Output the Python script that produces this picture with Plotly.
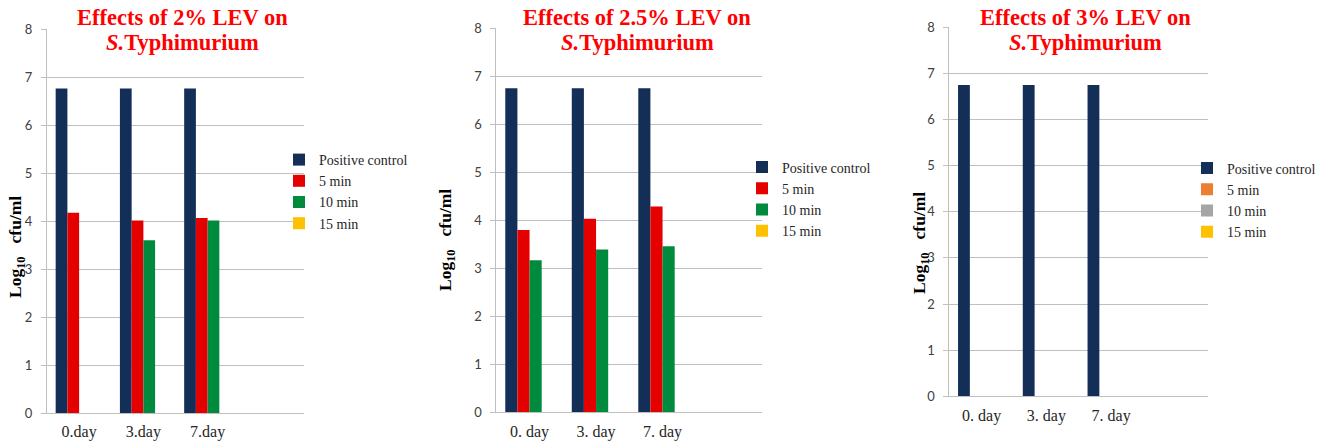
import plotly.graph_objects as go

days_p1 = ["0.day", "3.day", "7.day"]
days_p2 = ["0. day", "3. day", "7. day"]
days_p3 = ["0. day", "3. day", "7. day"]
series_names = ["Positive control", "5 min", "10 min", "15 min"]

# panel 1: 2% LEV
p1_control = [6.76, 6.76, 6.76]
p1_5min = [4.17, 4.01, 4.06]
p1_10min = [0, 3.60, 4.01]
p1_15min = [0, 0, 0]
# panel 2: 2.5% LEV
p2_control = [6.75, 6.75, 6.75]
p2_5min = [3.80, 4.03, 4.29]
p2_10min = [3.17, 3.39, 3.46]
p2_15min = [0, 0, 0]
# panel 3: 3% LEV
p3_control = [6.75, 6.75, 6.75]
p3_5min = [0, 0, 0]
p3_10min = [0, 0, 0]
p3_15min = [0, 0, 0]

title_line1 = ["Effects of 2% LEV on", "Effects of 2.5% LEV on", "Effects of 3% LEV on"]
title_line2 = "<i>S.</i>Typhimurium"
ytitle_text = "Log<sub>10</sub>&nbsp;&nbsp; cfu/ml"

colors_a = ["#132F57", "#E50000", "#008A3E", "#FFC000"]
colors_b = ["#132F57", "#ED7D31", "#A5A5A5", "#FFC000"]

# the page body adds an 8 px offset; the figure fills the rest of the window
OFF = 8
W, H = 1323 - OFF, 441 - OFF
def px(x): return (x - OFF) / W
def py(y): return 1 - (y - OFF) / H

panels = [
    dict(cats=days_p1, vals=[p1_control, p1_5min, p1_10min, p1_15min], colors=colors_a,
         xd=[px(47), px(304)], yd=[py(413), py(29)],
         leg=(px(279), py(191.5)), ytitle=(px(16), py(247)), ttl=182),
    dict(cats=days_p2, vals=[p2_control, p2_5min, p2_10min, p2_15min], colors=colors_a,
         xd=[px(496.3), px(762.3)], yd=[py(412.3), py(28.3)],
         leg=(px(742), py(199)), ytitle=(px(446), py(240)), ttl=637),
    dict(cats=days_p3, vals=[p3_control, p3_5min, p3_10min, p3_15min], colors=colors_b,
         xd=[px(949.3), px(1208.3)], yd=[py(396.3), py(27.3)],
         leg=(px(1187), py(200)), ytitle=(px(920), py(243)), ttl=1085),
]

fig = go.Figure()
layout = dict(
    width=W, height=H, margin=dict(l=0, r=0, t=0, b=0, pad=0, autoexpand=False),
    paper_bgcolor="white", plot_bgcolor="white",
    barmode="group", bargap=0.27, bargroupgap=0,
    annotations=[],
)

for i, p in enumerate(panels):
    n = "" if i == 0 else str(i + 1)
    xa, ya = "x" + n, "y" + n
    leg = "legend" + n
    for s, name in enumerate(series_names):
        fig.add_trace(go.Bar(
            x=p["cats"], y=p["vals"][s], name=name,
            marker=dict(color=p["colors"][s], line=dict(width=0)),
            xaxis=xa, yaxis=ya, legend=leg,
        ))
    layout["xaxis" + n] = dict(
        domain=p["xd"], anchor=ya, type="category", automargin=False,
        range=[-0.5, 3.5], showgrid=False, showline=True,
        linecolor="#BFBFBF", linewidth=1, ticks="",
        tickfont=dict(family="Liberation Serif", size=16, color="#262626"),
        ticklabelstandoff=4, fixedrange=True,
    )
    layout["yaxis" + n] = dict(
        domain=p["yd"], anchor=xa, range=[0, 8], dtick=1, automargin=False,
        showgrid=True, gridcolor="#BFBFBF", gridwidth=1,
        showline=True, linecolor="#BFBFBF", linewidth=1,
        ticks="outside", ticklen=5, tickcolor="#BFBFBF", tickwidth=1,
        zeroline=False,
        tickfont=dict(family="Lato", size=13, color="#404040"),
        ticklabelstandoff=6,
    )
    layout[leg] = dict(
        x=p["leg"][0], y=p["leg"][1], xanchor="left", yanchor="middle",
        font=dict(family="Liberation Serif", size=14, color="#262626"),
        bgcolor="rgba(0,0,0,0)", tracegroupgap=0, itemwidth=30,
    )
    layout["annotations"].append(dict(
        text=title_line1[i], x=px(p["ttl"]), y=py(17), xref="paper", yref="paper",
        xanchor="center", yanchor="middle", showarrow=False,
        font=dict(family="Liberation Serif", size=22.5, color="#FF0000", weight="bold"),
    ))
    layout["annotations"].append(dict(
        text=title_line2, x=px(p["ttl"]), y=py(43), xref="paper", yref="paper",
        xanchor="center", yanchor="middle", showarrow=False,
        font=dict(family="Liberation Serif", size=22.5, color="#FF0000", weight="bold"),
    ))
    layout["annotations"].append(dict(
        text=ytitle_text, x=p["ytitle"][0], y=p["ytitle"][1],
        xref="paper", yref="paper", xanchor="center", yanchor="middle",
        textangle=-90, showarrow=False,
        font=dict(family="Liberation Serif", size=17.5, color="#000000", weight="bold"),
    ))

fig.update_layout(**layout)
fig.write_html("out.html")
